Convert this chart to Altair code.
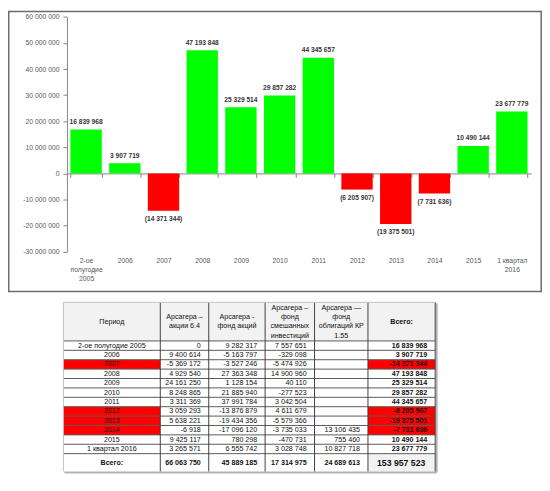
import altair as alt
import pandas as pd

# ---------------- data ----------------
categories = ["2-ое полугодие 2005", "2006", "2007", "2008", "2009", "2010",
              "2011", "2012", "2013", "2014", "2015", "1 квартал 2016"]
akcii_64 = [0, 9400614, -5369172, 4929540, 24161250, 8248865, 3311369,
            3059293, 5638221, -6918, 9425117, 3265571]
fond_akciy = [9282317, -5163797, -3527246, 27363348, 1128154, 21885940,
              37991784, -13876879, -19434356, -17096120, 780298, 6555742]
fond_smesh = [7557651, -329098, -5474926, 14900960, 40110, -277523, 3042504,
              4611679, -5579366, -3735033, -470731, 3028748]
fond_oblig = [None, None, None, None, None, None, None, None, None,
              13106435, 755460, 10827718]
totals = [16839968, 3907719, -14371344, 47193848, 25329514, 29857282,
          44345657, -6205907, -19375501, -7731636, 10490144, 23677779]
column_sums = [66063750, 45889185, 17314975, 24689613, 153957523]
headers = ["Период", "Арсагера –\nакции 6.4", "Арсагера -\nфонд акций",
           "Арсагера –\nфонд\nсмешанных\nинвестиций",
           "Арсагера —\nфонд\nоблигаций КР\n1.55", "Всего:"]
sum_label = "Всего:"
y_ticks = [-30000000, -20000000, -10000000, 0, 10000000, 20000000,
           30000000, 40000000, 50000000, 60000000]

GREEN = "#00ff00"
RED = "#ff0000"
FONT = "Liberation Sans"
LINE_H = 9.5


def fmt(v):
    if v is None:
        return ""
    return f"{v:,}".replace(",", " ")


W, H = 540, 476

# ---------------- frame around the chart ----------------
frame = alt.Chart(pd.DataFrame({"a": [0]})).mark_rect(
    filled=False, stroke="#6b6b6b", strokeWidth=1.5
).encode(
    x=alt.value(0.75), x2=alt.value(539.2),
    y=alt.value(0.75), y2=alt.value(284),
)

# ---------------- bar chart ----------------
bars_df = pd.DataFrame({"cat": categories, "val": totals})
bars_df["label"] = [fmt(v) if v >= 0 else "(" + fmt(-v) + ")" for v in totals]

x_enc = alt.X(
    "cat:N", sort=categories,
    scale=alt.Scale(range=[59.4, 529.1], paddingInner=0.19, paddingOuter=0.095),
    axis=alt.Axis(
        orient="bottom", offset=-311.4, title=None,
        domainColor="#868686", tickColor="#868686", tickSize=4,
        tickBand="extent", labelAngle=0, labelPadding=81.5,
        labelFont=FONT, labelFontSize=6.9, labelColor="#595959",
        labelLineHeight=8.7,
        labelExpr="datum.label == '1 квартал 2016' ? ['1 квартал', '2016'] : split(datum.label, ' ')",
    ),
)
y_enc = alt.Y(
    "val:Q",
    scale=alt.Scale(domain=[-30000000, 60000000], range=[243.7, 6.3], nice=False, zero=False),
    axis=alt.Axis(
        orient="left", offset=-59.6, title=None, values=y_ticks, grid=False,
        domainColor="#868686", tickColor="#868686", tickSize=4,
        labelPadding=4, labelFont=FONT, labelFontSize=6.9, labelColor="#595959",
        labelExpr="replace(replace(format(datum.value, ',d'), regexp(',', 'g'), ' '), '\u2212', '-')",
    ),
)

bars = alt.Chart(bars_df).mark_bar().encode(
    x=x_enc, y=y_enc,
    color=alt.condition(alt.datum.val >= 0, alt.value(GREEN), alt.value(RED)),
)
pos_labels = alt.Chart(bars_df).transform_filter(alt.datum.val >= 0).mark_text(
    dy=-7.7, baseline="middle", font=FONT, fontSize=6.7, fontWeight="bold", color="#333333"
).encode(x=x_enc, y=y_enc, text="label:N")
neg_labels = alt.Chart(bars_df).transform_filter(alt.datum.val < 0).mark_text(
    dy=8.3, baseline="middle", font=FONT, fontSize=6.7, fontWeight="bold", color="#333333"
).encode(x=x_enc, y=y_enc, text="label:N")

bar_layer = alt.layer(bars, pos_labels, neg_labels)

# ---------------- table ----------------
col_edges = [0, 98, 147, 204, 254, 308, 376]
row_heights = [39] + [9.5] * 12 + [18]
row_edges = [0]
for h in row_heights:
    row_edges.append(row_edges[-1] + h)
TW, TH = col_edges[-1], row_edges[-1]

tx = alt.Scale(domain=[0, TW], range=[56, 56 + TW], nice=False, zero=False)
ty = alt.Scale(domain=[0, TH], range=[295, 295 + TH], nice=False, zero=False)

cells = []
texts = []
data_cols = [akcii_64, fond_akciy, fond_smesh, fond_oblig, totals]
for r in range(len(row_heights)):
    y0, y1 = row_edges[r], row_edges[r + 1]
    for c in range(6):
        x0, x1 = col_edges[c], col_edges[c + 1]
        fill = "#ffffff"
        if r == 0:
            fill = "#f2f2f2"
            txt = headers[c]
            style = "cb" if c == 5 else "c"
        elif r == len(row_heights) - 1:
            if c == 0:
                txt, style = sum_label, "cb"
            else:
                txt = fmt(column_sums[c - 1])
                style = "rbig" if c == 5 else "rb"
            if c == 5:
                fill = "#f2f2f2"
        else:
            i = r - 1
            if c == 0:
                txt, style = categories[i], "c"
            else:
                txt = fmt(data_cols[c - 1][i])
                style = "rb" if c == 5 else "r"
            if c in (0, 5) and totals[i] < 0:
                fill = RED
        cells.append({"x0": x0, "x1": x1, "y0": y0, "y1": y1, "fill": fill})
        if style.startswith("c"):
            xt = (x0 + x1) / 2
        elif style == "rbig":
            xt = x1 - 10
        else:
            xt = x1 - 8
        n_lines = txt.count("\n") + 1
        yt = (y0 + y1) / 2 - (n_lines - 1) * LINE_H / 2
        texts.append({"x": xt, "y": yt, "t": txt, "s": style})

cells_df = pd.DataFrame(cells)
texts_df = pd.DataFrame(texts)

cell_rects = alt.Chart(cells_df).mark_rect(strokeWidth=0).encode(
    x=alt.X("x0:Q", scale=tx, axis=None), x2="x1:Q",
    y=alt.Y("y0:Q", scale=ty, axis=None), y2="y1:Q",
    fill=alt.Fill("fill:N", scale=None),
)

hl_df = pd.DataFrame({"y": row_edges[1:-1], "x0": 0, "x1": TW})
vl_df = pd.DataFrame({"x": col_edges[1:], "y0": 0, "y1": TH})
outer_df = pd.DataFrame({"x0": [0, 0], "x1": [TW, 0], "y0": [0, 0], "y1": [0, TH]})
shadow_df = pd.DataFrame({"x0": [1, TW + 1.5], "x1": [TW + 1.5, TW + 1.5],
                          "y0": [TH + 1, 1], "y1": [TH + 1, TH + 1]})

h_lines = alt.Chart(hl_df).mark_rule(color="#5a5a5a", strokeWidth=1).encode(
    x=alt.X("x0:Q", scale=tx, axis=None), x2="x1:Q",
    y=alt.Y("y:Q", scale=ty, axis=None),
)
v_lines = alt.Chart(vl_df).mark_rule(color="#404040", strokeWidth=1).encode(
    x=alt.X("x:Q", scale=tx, axis=None),
    y=alt.Y("y0:Q", scale=ty, axis=None), y2="y1:Q",
)
outer_lines = alt.Chart(outer_df).mark_rule(color="#c0c0c0", strokeWidth=1).encode(
    x=alt.X("x0:Q", scale=tx, axis=None), x2="x1:Q",
    y=alt.Y("y0:Q", scale=ty, axis=None), y2="y1:Q",
)
shadow_lines = alt.Chart(shadow_df).mark_rule(color="#b4b4b4", strokeWidth=2).encode(
    x=alt.X("x0:Q", scale=tx, axis=None), x2="x1:Q",
    y=alt.Y("y0:Q", scale=ty, axis=None), y2="y1:Q",
)


def text_layer(style, align, weight, size):
    return alt.Chart(texts_df).transform_filter(alt.datum.s == style).mark_text(
        align=align, baseline="middle", font=FONT, fontSize=size,
        fontWeight=weight, color="#111111", lineBreak="\n", lineHeight=LINE_H,
    ).encode(
        x=alt.X("x:Q", scale=tx, axis=None),
        y=alt.Y("y:Q", scale=ty, axis=None),
        text="t:N",
    )


table_layer = alt.layer(
    cell_rects, shadow_lines, h_lines, v_lines, outer_lines,
    text_layer("c", "center", "normal", 7.2),
    text_layer("cb", "center", "bold", 7.2),
    text_layer("r", "right", "normal", 7.2),
    text_layer("rb", "right", "bold", 7.2),
    text_layer("rbig", "right", "bold", 8.8),
)

chart = alt.layer(frame, bar_layer, table_layer).resolve_scale(
    x="independent", y="independent"
).properties(
    width=W, height=H, padding=0,
    autosize=alt.AutoSizeParams(type="none"),
).configure_view(stroke=None)

chart.save("out.html", embed_options={"renderer": "svg", "actions": False})
